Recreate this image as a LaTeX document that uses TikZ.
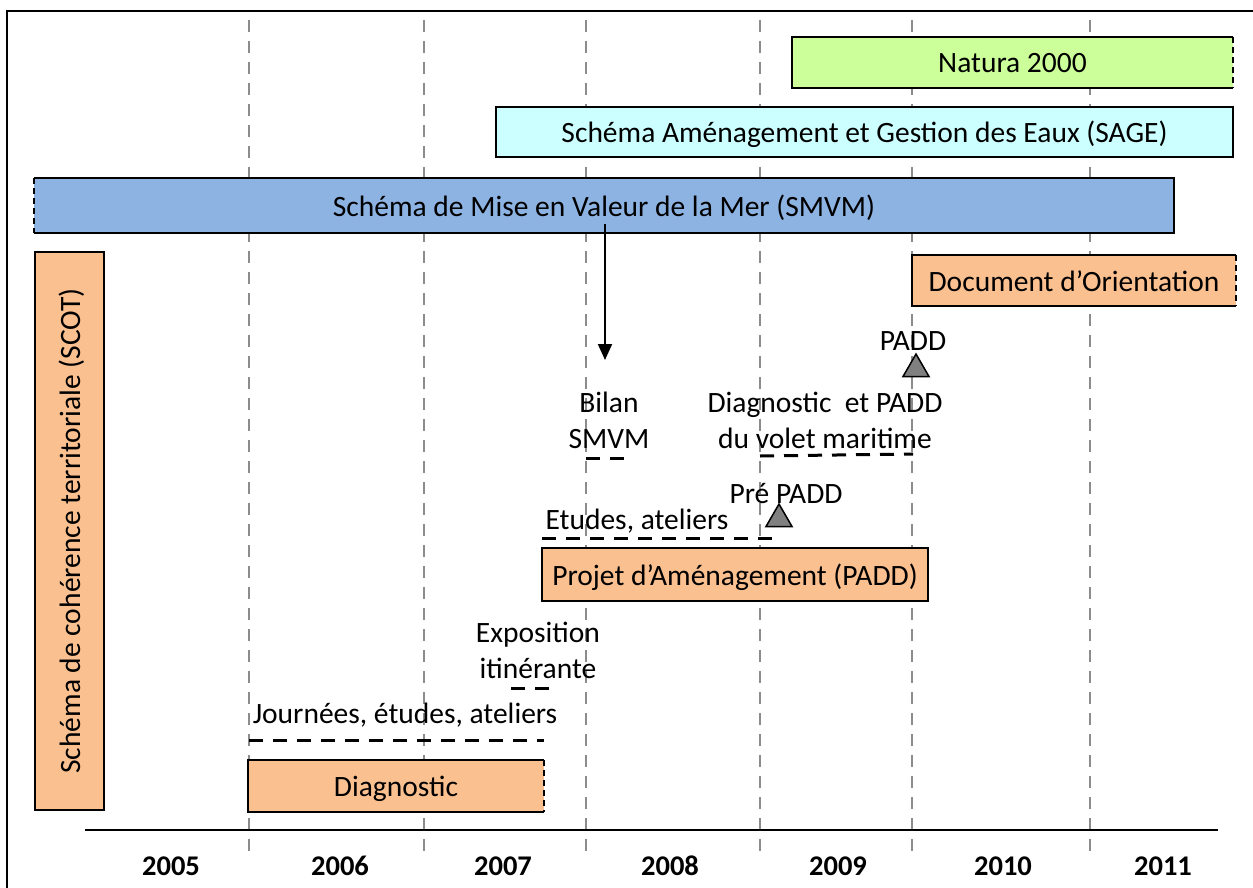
\documentclass[tikz,border=0pt]{standalone}
\usepackage{fontspec}
\setmainfont{Carlito}
\usetikzlibrary{arrows.meta,shapes.geometric}
\definecolor{natura}{HTML}{CCFF99}
\definecolor{sage}{HTML}{CCFFFF}
\definecolor{smvm}{HTML}{8DB3E2}
\definecolor{peach}{HTML}{FAC090}
\definecolor{gridgray}{HTML}{8C8C8C}
\definecolor{trigray}{HTML}{808080}
\newcommand{\txtsize}{\fontsize{29.5}{36}\selectfont}
\newcommand{\yrsize}{\fontsize{28.5}{34}\selectfont}
\tikzset{
  bar/.style={rectangle, inner sep=0pt, outer sep=0pt, font=\txtsize, text height=24pt, text depth=3pt},
  bord/.style={line width=1.8pt, black},
  dashedge/.style={line width=1.8pt, black, dash pattern=on 6pt off 4pt},
  gridline/.style={gridgray, line width=1.4pt, dash pattern=on 12pt off 9pt},
  period/.style={black, line width=3pt, dash pattern=on 14pt off 10pt},
  lbl/.style={font=\txtsize, inner sep=0pt, align=center},
  year/.style={font=\yrsize\bfseries, inner sep=0pt},
  milestone/.style={regular polygon, regular polygon sides=3, minimum size=30pt,
    inner sep=0pt, fill=trigray, draw=black, line width=1.5pt},
}
\begin{document}
\begin{tikzpicture}[x=1pt,y=-1pt]
\useasboundingbox (0,0) rectangle (1253,888);
\clip (0,0) rectangle (1253,888);
\fill[white] (0,0) rectangle (1253,888);
% frame
\draw[line width=2pt] (7,11) rectangle (1270,900);
% grid lines
\foreach \gx in {249,424,586,760,912,1090}
  \draw[gridline] (\gx,20) -- (\gx,858);
% axis
\draw[line width=2.5pt] (85,830) -- (1218,830);
% years
\node[year] (y2005) at (171,866) {2005};
\node[year] (y2006) at (340,866) {2006};
\node[year] (y2007) at (503,866) {2007};
\node[year] (y2008) at (670,866) {2008};
\node[year] (y2009) at (838,866) {2009};
\node[year] (y2010) at (1003,866) {2010};
\node[year] (y2011) at (1163,866) {2011};
% Natura 2000
\node[bar, fill=natura, minimum width=441pt, minimum height=51pt] (natura) at (1012.5,62.5) {Natura 2000};
\draw[bord] (natura.north east) -- (natura.north west) -- (natura.south west) -- (natura.south east);
\draw[dashedge] (natura.north east) -- (natura.south east);
% SAGE
\node[bar, fill=sage, draw=black, line width=1.8pt, minimum width=737pt, minimum height=50pt] (sage) at (864.5,132) {Schéma Aménagement et Gestion des Eaux (SAGE)};
% SMVM
\node[bar, fill=smvm, minimum width=1140pt, minimum height=55pt] (smvm) at (604,205.5) {Schéma de Mise en Valeur de la Mer (SMVM)};
\draw[bord] (smvm.north west) -- (smvm.north east) -- (smvm.south east) -- (smvm.south west);
\draw[dashedge] (smvm.north west) -- (smvm.south west);
% SCOT
\node[bar, fill=peach, draw=black, line width=1.8pt, minimum width=558pt, minimum height=69pt, rotate=90] (scot) at (69.5,531) {Schéma de cohérence territoriale (SCOT)};
% Document d'Orientation
\node[bar, fill=peach, minimum width=324pt, minimum height=51pt] (docor) at (1074,280.5) {Document d’Orientation};
\draw[bord] (docor.north east) -- (docor.north west) -- (docor.south west) -- (docor.south east);
\draw[dashedge] (docor.north east) -- (docor.south east);
% Projet d'Amenagement
\node[bar, fill=peach, draw=black, line width=1.8pt, minimum width=386pt, minimum height=53pt] (padd) at (735,574.5) {Projet d’Aménagement (PADD)};
% Diagnostic
\node[bar, fill=peach, minimum width=296pt, minimum height=52pt] (diag) at (396,786) {Diagnostic};
\draw[bord] (diag.north east) -- (diag.north west) -- (diag.south west) -- (diag.south east);
\draw[dashedge] (diag.north east) -- (diag.south east);
% arrow SMVM -> Bilan
\coordinate (arrS) at (605,224);
\coordinate (arrE) at (605,360);
\draw[line width=2pt, -{Triangle[length=16pt,width=14pt]}] (arrS) -- (arrE);
% labels
\node[lbl] (paddlbl) at (913,341) {PADD};
\node[milestone] (tri1) at (916,369) {};
\node[lbl] (diagvolet) at (825,420) {Diagnostic\ \ et PADD\\du volet maritime};
\node[lbl] (bilan) at (609,420) {Bilan\\SMVM};
\node[lbl] (prepadd) at (786,494) {Pré PADD};
\node[milestone] (tri2) at (779,519) {};
\node[lbl] (etudes) at (637,521) {Etudes, ateliers};
\node[lbl] (expo) at (538,650) {Exposition\\itinérante};
\node[lbl] (journees) at (405,715) {Journées, études, ateliers};
% periods
\coordinate (p1a) at (586,458); \coordinate (p1b) at (628,458);
\coordinate (p2a) at (760,456); \coordinate (p2b) at (913,454);
\coordinate (p3a) at (542,538); \coordinate (p3b) at (776,538);
\coordinate (p4a) at (511,688); \coordinate (p4b) at (553,688);
\coordinate (p5a) at (249,740); \coordinate (p5b) at (544,740);
\draw[period] (p1a) -- (p1b);
\draw[period] (p2a) -- (p2b);
\draw[period] (p3a) -- (p3b);
\draw[period] (p4a) -- (p4b);
\draw[period] (p5a) -- (p5b);
\end{tikzpicture}
\end{document}
